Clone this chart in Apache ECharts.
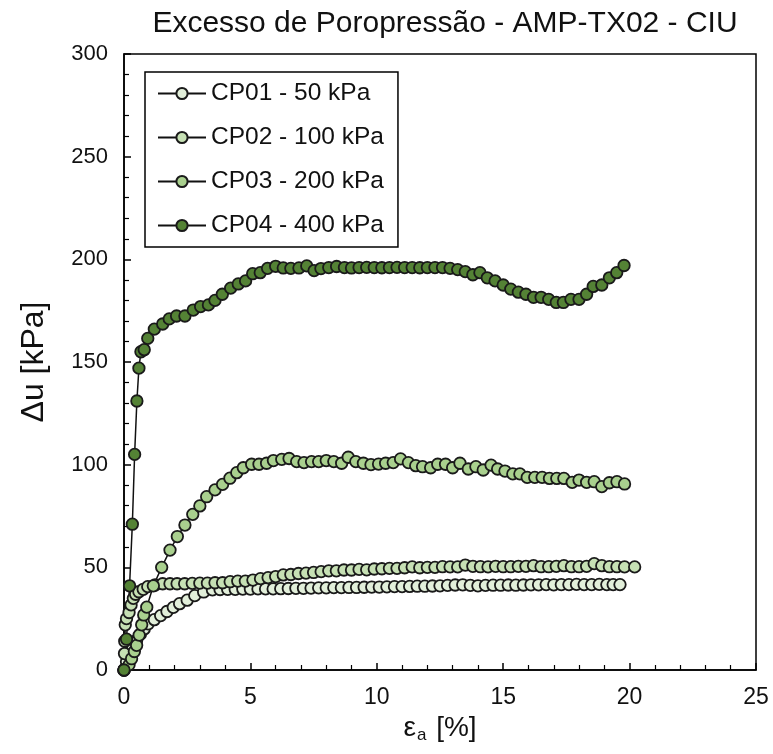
<!DOCTYPE html>
<html>
<head>
<meta charset="utf-8">
<script src="https://cdn.jsdelivr.net/npm/echarts@6/dist/echarts.min.js"></script>
<style>
  html, body { margin: 0; padding: 0; background: #fff; }
  #chart { width: 773px; height: 754px; }
</style>
</head>
<body>
<div id="chart"></div>
<script>
// Excess pore pressure vs axial strain, CIU triaxial series AMP-TX02
const titleText = 'Excesso de Poropressão - AMP-TX02 - CIU';
const seriesNames = ['CP01 - 50 kPa', 'CP02 - 100 kPa', 'CP03 - 200 kPa', 'CP04 - 400 kPa'];
const seriesColors = ['#e2efda', '#c6e0b4', '#a9d08e', '#548235'];
const xTicks = [0, 5, 10, 15, 20, 25];
const yTicks = [0, 50, 100, 150, 200, 250, 300];

// [axial strain %, Δu kPa]
const cp01 = [
  [0, 0], [0.1, 4], [0.2, 8], [0.35, 11], [0.5, 14.5], [0.65, 17.5], [0.8, 20], [0.96, 22.5],
  [1.2, 24.5], [1.45, 26.5], [1.7, 28.5], [1.95, 30.5], [2.2, 32.3], [2.5, 34], [2.8, 36.2],
  [3.15, 38], [3.5, 39], [3.8, 39.2], [4.1, 39.3], [4.4, 39.3], [4.7, 39.4], [5.0, 39.4],
  [5.3, 39.5], [5.6, 39.5], [5.9, 39.5], [6.2, 39.6], [6.5, 39.7], [6.8, 39.8], [7.1, 39.8],
  [7.4, 39.9], [7.7, 40], [8.0, 40], [8.3, 40.1], [8.6, 40.1], [8.9, 40.2], [9.2, 40.2],
  [9.5, 40.3], [9.8, 40.4], [10.1, 40.4], [10.4, 40.5], [10.7, 40.6], [11.0, 40.6], [11.3, 40.7],
  [11.6, 40.8], [11.9, 40.8], [12.2, 40.9], [12.5, 41], [12.8, 41.2], [13.1, 41.4], [13.4, 41.5],
  [13.7, 41.2], [14.0, 41], [14.3, 41.2], [14.6, 41.3], [14.9, 41.3], [15.2, 41.4], [15.5, 41.3],
  [15.8, 41.4], [16.1, 41.5], [16.4, 41.5], [16.7, 41.6], [17.0, 41.5], [17.3, 41.6], [17.6, 41.6],
  [17.9, 41.7], [18.2, 41.6], [18.5, 41.6], [18.8, 41.7], [19.1, 41.6], [19.35, 41.6], [19.62, 41.6]
];

const cp02 = [
  [0, 0], [0.02, 8], [0.03, 14], [0.05, 22], [0.1, 25], [0.2, 28], [0.28, 31.7], [0.37, 34.9],
  [0.46, 36.9], [0.59, 38.1], [0.76, 39.3], [0.94, 40.6], [1.23, 41.4], [1.53, 42], [1.82, 42],
  [2.1, 42], [2.4, 42], [2.7, 42.2], [3.0, 42.3], [3.3, 42.3], [3.6, 42.5], [3.9, 42.5],
  [4.2, 43], [4.5, 43.3], [4.8, 43.3], [5.1, 43.8], [5.4, 44.5], [5.7, 45], [6.0, 45.5],
  [6.3, 46.3], [6.6, 46.5], [6.9, 47], [7.2, 47.2], [7.5, 47.5], [7.8, 47.9], [8.1, 48.3],
  [8.4, 48.3], [8.7, 48.7], [9.0, 48.7], [9.3, 49], [9.6, 48.8], [9.9, 49.2], [10.2, 49.3],
  [10.5, 49.5], [10.8, 49.5], [11.1, 49.8], [11.4, 50.2], [11.7, 49.8], [12.0, 50], [12.3, 50],
  [12.6, 50.3], [12.9, 50.2], [13.2, 50.2], [13.5, 51.1], [13.8, 50.5], [14.1, 50.3], [14.4, 50.2],
  [14.7, 50.5], [15.0, 50.3], [15.3, 50.3], [15.6, 50.5], [15.9, 50.5], [16.2, 50.8], [16.5, 50.3],
  [16.8, 50.3], [17.1, 50.5], [17.4, 50.8], [17.7, 50.3], [18.0, 50.3], [18.3, 50.5], [18.6, 51.8],
  [18.9, 50.8], [19.2, 50.3], [19.5, 50.3], [19.8, 50.2], [20.2, 50.2]
];

const cp03 = [
  [0, 0], [0.2, 2.5], [0.3, 5.5], [0.41, 9], [0.5, 12], [0.6, 17], [0.7, 22], [0.78, 26.8],
  [0.9, 30.6], [1.16, 41], [1.49, 50], [1.82, 58.4], [2.11, 65], [2.41, 70.6], [2.72, 75.8],
  [3.0, 79.9], [3.27, 84.4], [3.6, 87.7], [3.9, 90.4], [4.19, 93.4], [4.46, 96.1], [4.72, 98.5],
  [5.05, 100.2], [5.34, 100.2], [5.64, 100.7], [5.91, 102], [6.24, 102.6], [6.53, 103],
  [6.83, 101.5], [7.12, 101], [7.42, 101.5], [7.7, 101.5], [8.0, 102], [8.3, 101.5], [8.61, 100.7],
  [8.87, 103.6], [9.17, 101.5], [9.47, 100.7], [9.77, 100], [10.07, 100.3], [10.35, 100.7],
  [10.65, 101], [10.94, 102.8], [11.25, 101], [11.54, 99.5], [11.81, 99], [12.13, 98.5],
  [12.41, 100.2], [12.72, 100.2], [13.0, 98.5], [13.29, 100.7], [13.62, 97.9], [13.92, 99],
  [14.21, 97.4], [14.52, 99.8], [14.78, 97.9], [15.07, 96.9], [15.38, 95.5], [15.66, 95.5],
  [15.95, 93.8], [16.25, 93.8], [16.54, 93.8], [16.83, 93.3], [17.12, 93.3], [17.4, 93.3],
  [17.73, 91.4], [18.0, 92.5], [18.3, 91.4], [18.6, 91.7], [18.9, 89.3], [19.2, 91.2],
  [19.5, 91.7], [19.8, 90.6]
];

const cp04 = [
  [0, 0], [0.1, 15], [0.22, 41], [0.33, 71], [0.42, 105], [0.51, 131], [0.59, 147], [0.67, 155],
  [0.8, 156], [0.94, 161.5], [1.2, 166], [1.53, 168.5], [1.79, 171], [2.08, 172.4], [2.41, 172.4],
  [2.74, 175.3], [3.03, 177], [3.34, 177.8], [3.6, 180], [3.89, 183], [4.22, 186], [4.52, 188],
  [4.81, 189.5], [5.09, 193], [5.39, 193.5], [5.68, 195.6], [6.0, 196.6], [6.3, 195.8],
  [6.6, 195.6], [6.92, 195.8], [7.23, 196.8], [7.52, 194.5], [7.79, 195.5], [8.1, 196],
  [8.41, 196.5], [8.72, 196], [9.0, 195.8], [9.3, 196], [9.6, 196.1], [9.9, 196], [10.2, 195.9],
  [10.5, 196], [10.8, 196.1], [11.1, 196], [11.4, 196], [11.7, 195.9], [12.0, 196], [12.3, 196],
  [12.6, 196], [12.9, 195.6], [13.2, 195], [13.5, 194], [13.8, 192.5], [14.08, 193.5],
  [14.37, 191], [14.68, 189.5], [15.0, 187.5], [15.3, 185.5], [15.6, 184], [15.9, 183],
  [16.2, 181.5], [16.5, 181.5], [16.8, 180.5], [17.1, 179], [17.38, 179], [17.68, 180.5],
  [18.0, 180.5], [18.3, 183], [18.56, 186.8], [18.9, 187.5], [19.2, 191], [19.49, 193.5],
  [19.78, 197]
];

const seriesData = [cp01, cp02, cp03, cp04];

const chart = echarts.init(document.getElementById('chart'), null, { renderer: 'canvas' });
const font = 'Liberation Sans, Arial, sans-serif';
const ink = '#111';

chart.setOption({
  animation: false,
  backgroundColor: '#fff',
  title: {
    text: titleText,
    left: 440,
    top: 4,
    textAlign: 'center',
    textStyle: { fontFamily: font, fontSize: 30, fontWeight: 'normal', color: ink }
  },
  grid: {
    left: 124, top: 54, width: 632, height: 616,
    show: true, borderColor: '#000', borderWidth: 1.5, backgroundColor: 'transparent'
  },
  legend: {
    left: 145, top: 72,
    orient: 'vertical',
    padding: [9, 14, 9, 12],
    itemGap: 19,
    itemWidth: 48,
    itemHeight: 14,
    borderColor: '#000',
    borderWidth: 1.5,
    backgroundColor: '#fff',
    textStyle: { fontFamily: font, fontSize: 24.5, color: ink },
    data: seriesNames
  },
  xAxis: {
    type: 'value',
    min: xTicks[0], max: xTicks[xTicks.length - 1], interval: 5,
    name: '{e|ε}{s|a}{e| [%]}',
    nameLocation: 'middle',
    nameGap: 40,
    nameTextStyle: {
      rich: {
        e: { fontFamily: font, fontSize: 28, color: ink },
        s: { fontFamily: font, fontSize: 17, color: ink, verticalAlign: 'bottom', padding: [14, 2, 0, 1] }
      }
    },
    axisLine: { show: true, lineStyle: { color: '#000', width: 1.5 } },
    axisTick: { show: true, inside: true, length: 7, lineStyle: { color: '#000', width: 1.5 } },
    minorTick: { show: true, splitNumber: 5, length: 5, lineStyle: { color: '#000', width: 1.2 } },
    axisLabel: { fontFamily: font, fontSize: 23, color: ink, margin: 16 },
    splitLine: { show: false }
  },
  yAxis: {
    type: 'value',
    min: yTicks[0], max: yTicks[yTicks.length - 1], interval: 50,
    name: 'Δu [kPa]',
    nameLocation: 'middle',
    nameGap: 74,
    nameRotate: 90,
    nameTextStyle: { fontFamily: font, fontSize: 32, color: ink },
    axisLine: { show: true, lineStyle: { color: '#000', width: 1.5 } },
    axisTick: { show: true, inside: true, length: 7, lineStyle: { color: '#000', width: 1.5 } },
    minorTick: { show: true, splitNumber: 5, length: 5, lineStyle: { color: '#000', width: 1.2 } },
    axisLabel: { fontFamily: font, fontSize: 22, color: ink, margin: 16 },
    splitLine: { show: false }
  },
  series: seriesData.map((d, i) => ({
    name: seriesNames[i],
    type: 'line',
    data: d,
    symbol: 'circle',
    symbolSize: 11.5,
    showAllSymbol: true,
    color: seriesColors[i],
    lineStyle: { color: '#111', width: 1.5 },
    itemStyle: { color: seriesColors[i], borderColor: '#1a1a1a', borderWidth: 1.8 },
    emphasis: { disabled: true }
  }))
});
</script>
</body>
</html>
